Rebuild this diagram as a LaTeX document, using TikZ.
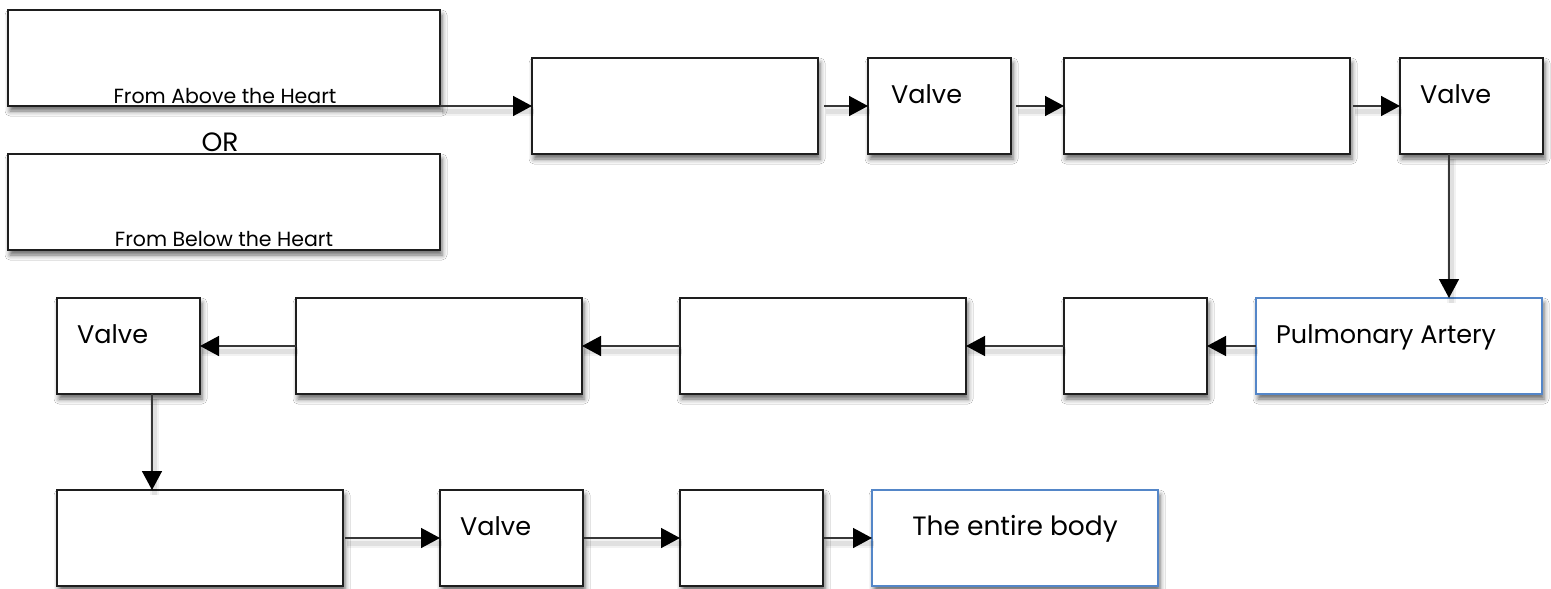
\documentclass[tikz,border=0pt]{standalone}
\usepackage{fontspec}
\setmainfont{Poppins}
\usetikzlibrary{arrows.meta,shadows.blur,calc}
\definecolor{edge}{RGB}{30,30,30}
\definecolor{linkcol}{RGB}{55,55,55}
\definecolor{accent}{RGB}{84,134,200}
\tikzset{
  box/.style={draw=edge, line width=1.3pt, fill=white, anchor=north west,
    inner sep=0pt, outer sep=0pt, minimum height=96pt,
    blur shadow={shadow xshift=2pt, shadow yshift=-5pt,
      shadow blur radius=5pt, shadow opacity=60}},
  widebox/.style={box, minimum width=286pt},
  narrowbox/.style={box, minimum width=143pt},
  sourcebox/.style={box, minimum width=432pt},
  endbox/.style={draw=accent, line width=1.1pt},
  flow/.style={draw=linkcol, line width=1.5pt,
    preaction={draw=black, draw opacity=0.05, line width=9pt, -,
      transform canvas={shift={(2pt,-5pt)}}},
    preaction={draw=black, draw opacity=0.07, line width=5pt, -,
      transform canvas={shift={(2pt,-5pt)}}},
    -{Triangle[length=19pt,width=20pt,color=black,fill=black]}},
  bigtxt/.style={font=\fontsize{25.5}{30}\selectfont, inner sep=0pt},
  smalltxt/.style={font=\fontsize{20.5}{24}\selectfont, inner sep=0pt, anchor=base},
}
\begin{document}
\begin{tikzpicture}[x=1pt,y=-1pt]
  \useasboundingbox[fill=white] (0,0) rectangle (1551,589);

  % where the blood comes from
  \node[sourcebox] (above) at (8,10) {};
  \node[sourcebox] (below) at (8,154) {};
  \node[smalltxt] (abovetxt) at ($(above.south)+(1,-3)$) {From Above the Heart};
  \node[smalltxt] (belowtxt) at ($(below.south)+(0,-4)$) {From Below the Heart};
  \node[smalltxt, font=\fontsize{26.5}{31}\selectfont] (or) at (220,151) {OR};

  % first row
  \node[widebox]   (c1) at (532,58) {};
  \node[narrowbox] (v1) at (868,58) {};
  \node[widebox]   (c2) at (1064,58) {};
  \node[narrowbox] (v2) at (1400,58) {};

  % second row
  \node[widebox, endbox] (pa) at (1256,298) {};
  \node[narrowbox] (g1) at (1064,298) {};
  \node[widebox]   (c3) at (680,298) {};
  \node[widebox]   (c4) at (296,298) {};
  \node[narrowbox] (v3) at (57,298) {};

  % third row
  \node[widebox]   (c5) at (57,490) {};
  \node[narrowbox] (v4) at (440,490) {};
  \node[narrowbox] (g2) at (680,490) {};
  \node[widebox, endbox] (body) at (872,490) {};

  % labels inside the boxes
  \node[bigtxt, anchor=base west] (v1txt) at ($(v1.north west)+(23,45)$) {Valve};
  \node[bigtxt, anchor=base west] (v2txt) at ($(v2.north west)+(20,45)$) {Valve};
  \node[bigtxt, anchor=base west] (v3txt) at ($(v3.north west)+(20,45)$) {Valve};
  \node[bigtxt, anchor=base west] (v4txt) at ($(v4.north west)+(20,45)$) {Valve};
  \node[bigtxt, anchor=base west] (patxt) at ($(pa.north west)+(20,45)$) {Pulmonary Artery};
  \node[bigtxt, anchor=base, font=\fontsize{26.5}{31}\selectfont] (bodytxt) at ($(body.north)+(0,45)$) {The entire body};

  % connectors
  \draw[flow] (above.south east) -- (c1.west);
  \draw[flow, shorten <=6pt] (c1.east) -- (v1.west);
  \draw[flow, shorten <=5pt] (v1.east) -- (c2.west);
  \draw[flow, shorten <=3pt] (c2.east) -- (v2.west);
  \draw[flow] ($(v2.south west)+(49,0)$) -- ($(pa.north west)+(193,0)$);
  \draw[flow] (pa.west) -- (g1.east);
  \draw[flow] (g1.west) -- (c3.east);
  \draw[flow] (c3.west) -- (c4.east);
  \draw[flow] (c4.west) -- (v3.east);
  \draw[flow] ($(v3.south west)+(95,0)$) -- ($(c5.north west)+(95,0)$);
  \draw[flow, shorten <=2pt] (c5.east) -- (v4.west);
  \draw[flow, shorten <=1pt] (v4.east) -- (g2.west);
  \draw[flow, shorten <=1pt] (g2.east) -- (body.west);
\end{tikzpicture}
\end{document}
